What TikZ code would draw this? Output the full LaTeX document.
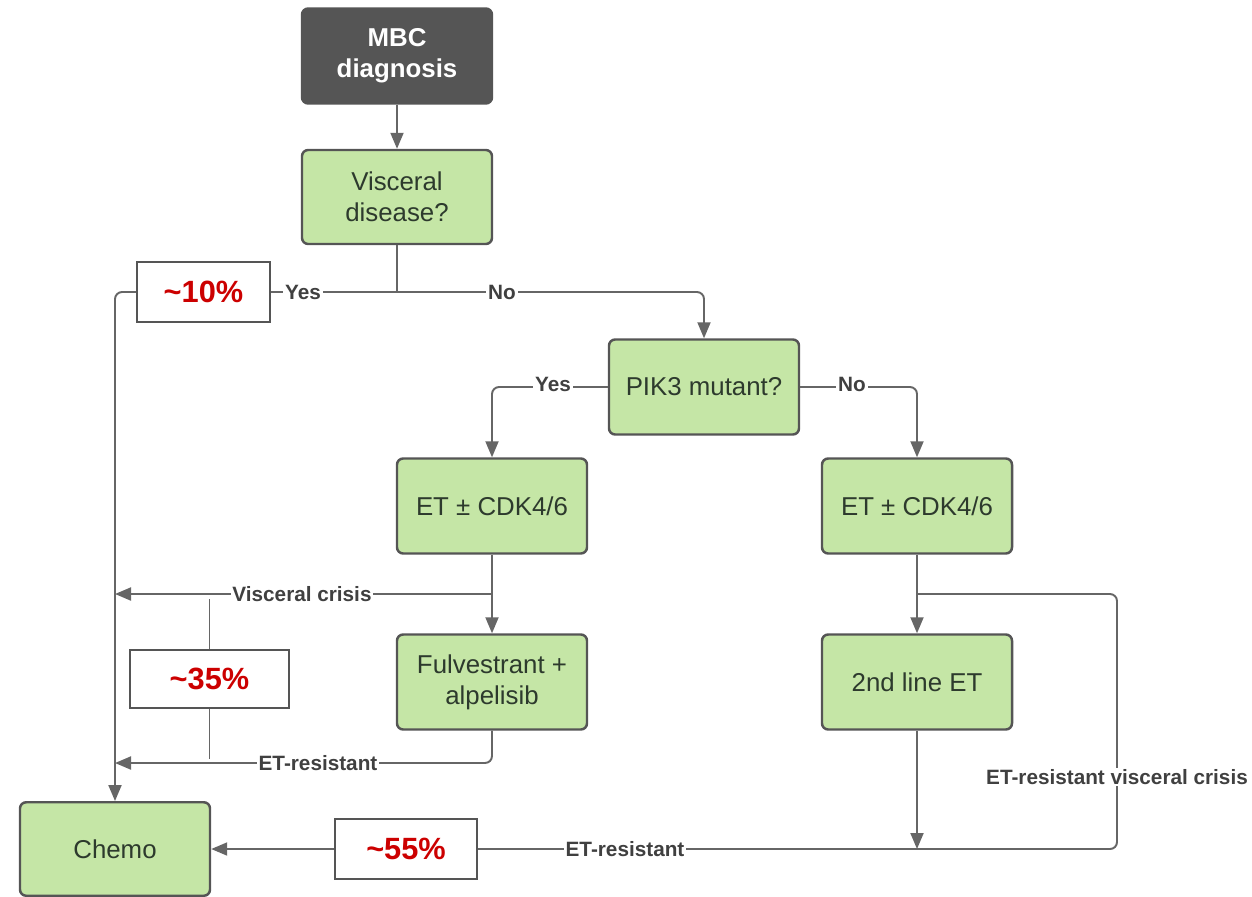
\documentclass[tikz,border=0pt]{standalone}
\usepackage{fontspec}
\setmainfont{Liberation Sans}
\usetikzlibrary{arrows.meta,positioning}
\definecolor{boxgreen}{RGB}{197,230,166}
\definecolor{boxgray}{RGB}{85,85,85}
\definecolor{linegray}{RGB}{102,102,102}
\definecolor{txtdark}{RGB}{45,58,45}
\definecolor{pctred}{RGB}{204,0,0}

\begin{document}
\begin{tikzpicture}[
  box/.style={draw=boxgray, line width=1.4pt, rounded corners=3.5pt, fill=boxgreen,
    text=txtdark, minimum width=3.8cm, minimum height=1.9cm, align=center,
    font=\fontsize{14.7}{17.8}\selectfont},
  entry/.style={box, fill=boxgray, text=white, font=\bfseries\fontsize{14.7}{17.8}\selectfont},
  pct/.style={draw=boxgray, line width=1.4pt, fill=white, text=pctred,
    minimum height=1.2cm, font=\bfseries\fontsize{17.5}{20}\selectfont},
  conn/.style={draw=linegray, line width=1.1pt, rounded corners=4pt},
  arr/.style={conn, -{Triangle[length=3.2mm, width=2.6mm]}},
  lbl/.style={fill=white, inner sep=1pt, text=black!75, font=\bfseries\fontsize{11.8}{13}\selectfont}]
\useasboundingbox (0,0) rectangle (25.04,-17.92);
% Boxes
\node[entry] (mbc) at (7.94,-1.12) {MBC\\diagnosis};
\node[box, minimum height=1.88cm] (visc) at (7.94,-3.94) {Visceral\\disease?};
\node[box] (pik) at (14.08,-7.74) {PIK3 mutant?};
\node[box] (etl) at (9.84,-10.12) {ET ± CDK4/6};
\node[box] (etr) at (18.34,-10.12) {ET ± CDK4/6};
\node[box] (fulv) at (9.84,-13.64) {Fulvestrant +\\alpelisib};
\node[box] (second) at (18.34,-13.64) {2nd line ET};
\node[box, minimum height=1.87cm] (chemo) at (2.3,-16.98) {Chemo};
% Junctions
\coordinate (split) at (7.94,-5.84);
\coordinate (crisL) at (9.84,-11.88);
\coordinate (resL) at (9.84,-15.26);
\coordinate (crisR) at (18.34,-11.88);
\coordinate (loopR) at (22.34,-16.98);
\coordinate (merge) at (18.34,-16.98);
% Connectors
\draw[arr] (mbc) -- (visc);
\draw[conn] (visc.south) -- (split);
\draw[arr] (split) -| (chemo.north);
\draw[arr] (split) -| (pik.north);
\draw[arr] (pik.west) -| (etl.north);
\draw[arr] (pik.east) -| (etr.north);
\draw[arr] (etl) -- (fulv);
\draw[arr] (crisL) -- (crisL -| chemo.north);
\draw[arr] (fulv.south) |- (resL -| chemo.north);
\draw[arr] (etr) -- (second);
\draw[conn] (crisR) -| (loopR) -- (merge);
\draw[arr] (second.south) -- (merge);
\draw[arr] (merge) -- (chemo.east);
% Labels
\node[lbl] (yes1) at (6.06,-5.84) {Yes};
\node[lbl] (no1) at (10.04,-5.84) {No};
\node[lbl] (yes2) at (11.06,-7.68) {Yes};
\node[lbl] (no2) at (17.04,-7.68) {No};
\node[lbl] (crislbl) at (6.04,-11.88) {Visceral crisis};
\node[lbl] (reslbl) at (6.36,-15.26) {ET-resistant};
\node[lbl] (resbot) at (12.5,-16.98) {ET-resistant};
\node[lbl] (loopl) at (22.34,-15.54) {ET-resistant visceral crisis};
% Shares
\node[pct, minimum width=2.66cm] (p10) at (4.07,-5.84) {\textasciitilde10\%};
\node[pct, minimum width=3.18cm, minimum height=1.16cm] (p35) at (4.19,-13.58) {\textasciitilde35\%};
\draw[conn] (p35.north) -- ++(0,1.0);
\draw[conn] (p35.south) -- ++(0,-1.0);
\node[pct, minimum width=2.84cm] (p55) at (8.12,-16.98) {\textasciitilde55\%};
\end{tikzpicture}
\end{document}
